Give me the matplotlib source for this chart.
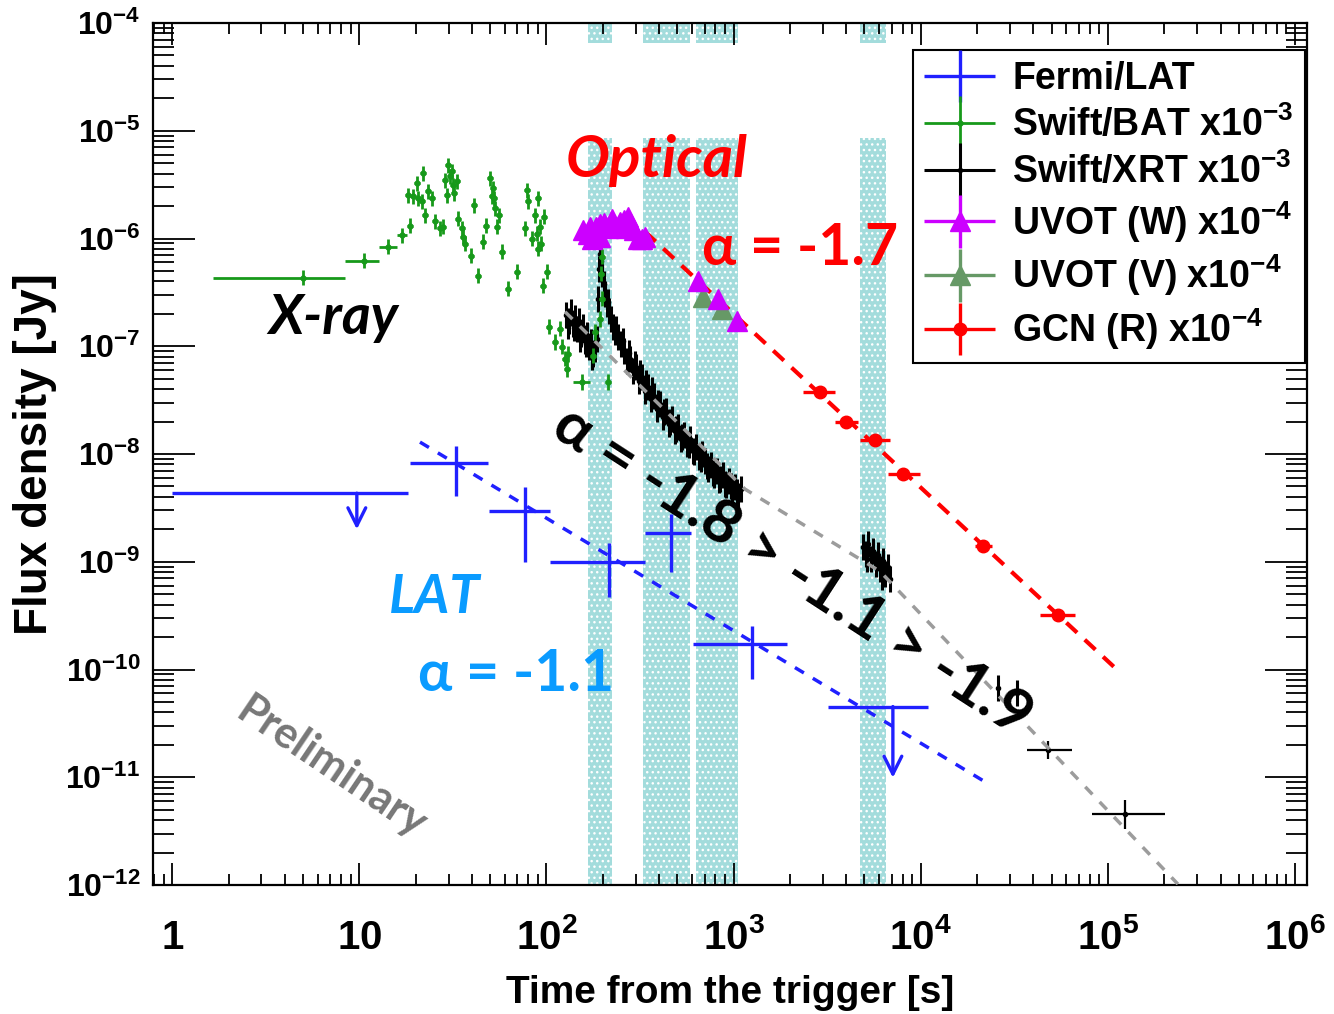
import numpy as np
import matplotlib.pyplot as plt
from matplotlib.container import ErrorbarContainer
from matplotlib.legend_handler import HandlerErrorbar
from matplotlib.patches import Rectangle

plt.rcParams['font.family'] = ['Liberation Sans', 'DejaVu Sans']
plt.rcParams['mathtext.fontset'] = 'custom'
plt.rcParams['mathtext.rm'] = 'Liberation Sans:bold'
plt.rcParams['mathtext.bf'] = 'Liberation Sans:bold'
plt.rcParams['mathtext.default'] = 'bf'

# ---------------- data (time [s], flux density [Jy]) ----------------
# Fermi/LAT detections
lat_t = [32.9, 76.9, 216, 463, 1254]
lat_tlo = [18.7, 49.4, 104.5, 336, 607]
lat_thi = [48.8, 104.5, 336, 592, 1928]
lat_f = [8.24e-9, 2.95e-9, 9.9e-10, 1.84e-9, 1.71e-10]
lat_flo = [4.07e-9, 9.9e-10, 4.68e-10, 7.98e-10, 8.24e-11]
lat_fhi = [1.19e-8, 4.93e-9, 1.49e-9, 2.77e-9, 2.51e-10]
# Fermi/LAT upper limits
lat_ul_t = [9.7, 7100]
lat_ul_tlo = [1.0, 3190]
lat_ul_thi = [18.2, 10900]
lat_ul_f = [4.33e-9, 4.53e-11]
lat_ul_end = [2.0e-9, 9.9e-12]
# LAT power-law fit (alpha = -1.1)
lat_fit_t = [21.1, 22000]
lat_fit_f = [1.29e-8, 9.1e-12]

# Swift/BAT, wide early bins
bat_wide_t = [5.01, 10.6, 14.3, 16.9]
bat_wide_tlo = [1.66, 8.40, 12.8, 15.9]
bat_wide_thi = [8.40, 12.8, 15.9, 18.0]
bat_wide_f = [4.34e-7, 6.24e-7, 8.43e-7, 1.07e-6]
# Swift/BAT, fine bins
bat_t = [18.7, 18.2, 19.4, 20.3, 20.6, 21.9, 21.6, 22.5, 23.3, 24.5,
         25.4, 27.0, 28.0, 28.7, 29.8, 31.3, 31.7, 29.4, 33.3, 33.7,
         35.4, 35.8, 36.7, 39.5, 41.0, 43.1, 45.8, 47.6, 50.0, 51.9,
         52.5, 54.5, 55.8, 57.9, 62.4, 69.7, 76.9, 78.8, 79.8, 83.8,
         86.9, 90.2, 92.4, 90.2, 95.9, 101, 30.6, 32.1, 51.2, 53.1,
         89.1, 93.6, 97.1,
         103, 111, 118, 121, 126, 130, 129, 213,
         177, 182, 193, 198, 196, 198]
bat_f = [1.32e-6, 2.51e-6, 2.46e-6, 3.25e-6, 2.36e-6, 4.02e-6, 2.21e-6, 1.64e-6, 2.74e-6, 2.36e-6,
         1.44e-6, 1.24e-6, 1.29e-6, 3.46e-6, 4.77e-6, 4.20e-6, 3.11e-6, 2.51e-6, 3.39e-6, 1.53e-6,
         1.24e-6, 1.04e-6, 8.98e-7, 6.95e-7, 2.03e-6, 4.53e-7, 9.38e-7, 1.32e-6, 3.61e-6, 2.92e-6,
         2.36e-6, 1.29e-6, 1.64e-6, 7.57e-7, 3.43e-7, 4.93e-7, 1.24e-6, 2.80e-6, 2.21e-6, 1.00e-6,
         1.64e-6, 2.36e-6, 1.29e-6, 8.07e-7, 3.66e-7, 4.93e-7, 3.77e-6, 2.62e-6, 2.46e-6, 1.90e-6,
         1.11e-6, 8.98e-7, 1.60e-6,
         1.52e-7, 1.10e-7, 1.46e-7, 9.9e-8, 7.66e-8, 8.51e-8, 6.18e-8, 4.68e-8,
         8.17e-8, 1.36e-7, 1.80e-7, 2.77e-7, 4.72e-7, 6.80e-7]
bat_late_t = [155]
bat_late_tlo = [139]
bat_late_thi = [171]
bat_late_f = [4.68e-8]

# Swift/XRT
xrt_t = [127.3, 132.1, 135.4, 138.7, 142.1, 145.7, 149.4, 153.1, 156.9, 160.8,
         164.8, 168.9, 173.1, 177.5, 181.9, 186.4,
         188.7, 191.0, 193.4, 195.8, 198.2, 203.2, 205.7, 210.8, 216.0, 221.4,
         227.0, 232.6, 241.3, 250.4, 259.8,
         269.6, 279.9, 290.4, 301.3, 312.6, 324.4, 336.6, 349.1, 362.2, 375.8,
         390.0, 404.7, 419.9, 435.7, 452.0, 469.0, 486.7, 505.0, 524.0, 543.7,
         564.2, 585.4, 607.4, 630.2, 654.0, 678.6, 704.1, 730.6, 758.1, 786.6,
         816.2, 846.9, 878.8, 911.9, 946.2, 981.5, 1018.6, 1056.8, 1096.5,
         4913, 5098, 5225, 5421, 5556, 5766, 5909, 6056, 6282, 6442,
         6682, 6850, 5161, 6207, 25850, 32660,
         130.5, 140.0, 151.0, 162.5, 175.0, 212.0, 236.0, 255.0, 275.0, 296.0,
         318.0, 342.0, 368.0, 397.0, 427.0, 460.0, 495.0, 533.0, 575.0, 618.0,
         666.0, 717.0, 772.0, 832.0, 895.0, 964.0, 1038.0]
xrt_f = [1.96e-7, 1.73e-7, 2.09e-7, 1.62e-7, 1.84e-7, 1.455e-7, 1.73e-7, 1.31e-7, 1.52e-7, 1.125e-7,
         1.28e-7, 9.89e-8, 1.10e-7, 8.51e-8, 9.48e-8, 1.17e-7,
         2.77e-7, 5.26e-7, 7.25e-7, 6.24e-7, 4.72e-7, 3.81e-7, 3.08e-7, 2.48e-7, 2.14e-7, 1.80e-7,
         1.52e-7, 1.36e-7, 1.23e-7, 1.055e-7, 9.08e-8,
         7.33e-8, 7.65e-8, 5.92e-8, 6.44e-8, 4.78e-8, 5.20e-8, 3.85e-8, 4.20e-8, 3.25e-8, 3.46e-8,
         2.62e-8, 2.92e-8, 2.21e-8, 2.51e-8, 1.90e-8, 2.12e-8, 1.64e-8, 1.78e-8, 1.38e-8, 1.50e-8,
         1.24e-8, 1.38e-8, 1.07e-8, 1.16e-8, 9.37e-9, 1.00e-8, 8.60e-9, 7.25e-9, 7.90e-9, 6.37e-9,
         6.94e-9, 5.85e-9, 6.37e-9, 5.14e-9, 5.61e-9, 4.52e-9, 4.93e-9, 4.06e-9, 4.72e-9,
         1.365e-9, 1.175e-9, 1.455e-9, 1.055e-9, 1.253e-9, 9.48e-10, 1.150e-9, 8.52e-10, 1.011e-9, 7.65e-10,
         8.89e-10, 6.87e-10, 1.055e-9, 7.18e-10, 6.80e-11, 6.11e-11,
         1.55e-7, 1.48e-7, 1.16e-7, 1.05e-7, 8.0e-8, 2.60e-7, 1.45e-7, 1.12e-7, 8.7e-8, 6.9e-8,
         5.6e-8, 4.6e-8, 3.9e-8, 3.0e-8, 2.45e-8, 2.0e-8, 1.72e-8, 1.45e-8, 1.22e-8, 1.05e-8,
         9.0e-9, 7.7e-9, 6.6e-9, 5.7e-9, 5.3e-9, 5.0e-9, 4.4e-9]
xrt_late_t = [47820, 123300]
xrt_late_tlo = [36940, 82130]
xrt_late_thi = [64240, 201600]
xrt_late_f = [1.80e-11, 4.58e-12]
xrt_late_flo = [1.48e-11, 3.30e-12]
xrt_late_fhi = [2.18e-11, 6.20e-12]
# XRT broken power-law fit (-1.8 -> -1.1 -> -1.9)
xrt_fit_t = [125.7, 1151, 6056, 236700]
xrt_fit_f = [2.09e-7, 4.72e-9, 8.16e-10, 1.02e-12]

# UVOT white filter
uvw_t = [157, 167, 175, 184, 193, 203, 213, 224, 235, 247,
         260, 273, 283, 294, 309, 325, 336, 171, 266, 193,
         646, 826, 1042]
uvw_f = [1.19e-6, 1.09e-6, 9.8e-7, 1.29e-6, 1.04e-6, 1.38e-6, 1.24e-6, 1.53e-6, 1.29e-6, 1.41e-6,
         1.47e-6, 1.60e-6, 1.35e-6, 1.19e-6, 1.00e-6, 1.00e-6, 1.04e-6, 1.29e-6, 1.24e-6, 1.35e-6,
         4.07e-7, 2.77e-7, 1.73e-7]
# UVOT V filter
uvv_t = [687, 867]
uvv_f = [2.89e-7, 2.23e-7]

# GCN R band
gcn_t = [2896, 3985, 5690, 8035, 21500, 54100]
gcn_tlo = [2350, 3480, 4732, 6680, 19500, 43300]
gcn_thi = [3480, 4620, 6846, 9900, 24000, 66600]
gcn_f = [3.77e-8, 1.99e-8, 1.35e-8, 6.52e-9, 1.39e-9, 3.18e-10]
# optical power-law fit (alpha = -1.7)
gcn_fit_t = [336, 109000]
gcn_fit_f = [1.16e-6, 1.04e-10]

# shaded time windows
band_t0 = [166.9, 328.2, 630.2, 4736]
band_t1 = [224.1, 585.4, 1056.8, 6521]
band_top = 8.52e-6
strip_bottom = 6.52e-5

bat_dt, bat_df = 0.04, 0.18
xrt_dt, xrt_df = 0.025, 0.32
uv_dt, uv_df = 0.02, 0.06

xmaj = [1, 10, 1e2, 1e3, 1e4, 1e5, 1e6]
xlabels = ['$1$', '$10$', '$10^{2}$', '$10^{3}$', '$10^{4}$', '$10^{5}$', '$10^{6}$']
ymaj = [1e-12, 1e-11, 1e-10, 1e-9, 1e-8, 1e-7, 1e-6, 1e-5, 1e-4]
ylabels = ['$10^{%d}$' % e for e in range(-12, -3)]


def rel_err(v, frac):
    v = np.asarray(v, float)
    return [v - v / (1 + frac), v * frac]


def rng_err(v, lo, hi):
    v = np.asarray(v, float)
    return [v - np.asarray(lo), np.asarray(hi) - v]


C_LAT = '#2020ff'
C_BAT = '#17991a'
C_UVW = '#cc00ff'
C_UVV = '#669966'
C_GCN = '#ff0000'
C_TXT = '#0a9bff'

fig = plt.figure(figsize=(13.34, 10.14), dpi=100)
ax = fig.add_axes([0.1147, 0.1272, 0.8651, 0.8501])
ax.set_xscale('log')
ax.set_yscale('log')

for a, b in zip(band_t0, band_t1):
    for lo, hi in [(1e-13, band_top), (strip_bottom, 1e-3)]:
        ax.add_patch(Rectangle((a, lo), b - a, hi - lo, facecolor='#a3dcdc',
                               edgecolor='white', hatch='...', lw=0, zorder=0.5))

ax.plot(xrt_fit_t, xrt_fit_f, color='#9c9c9c', lw=2.5, ls=(0, (3, 3)), zorder=3)

xrt = ax.errorbar(xrt_t, xrt_f, xerr=rel_err(xrt_t, xrt_dt), yerr=rel_err(xrt_f, xrt_df),
                  fmt='o', ms=3, color='black', elinewidth=2.2, capsize=0, zorder=2)
ax.errorbar(xrt_late_t, xrt_late_f, xerr=rng_err(xrt_late_t, xrt_late_tlo, xrt_late_thi),
            yerr=rng_err(xrt_late_f, xrt_late_flo, xrt_late_fhi),
            fmt='o', ms=3, color='black', elinewidth=1.6, capsize=0, zorder=2)

bat = ax.errorbar(bat_t, bat_f, xerr=rel_err(bat_t, bat_dt), yerr=rel_err(bat_f, bat_df),
                  fmt='o', ms=3.5, color=C_BAT, elinewidth=2, capsize=0, zorder=4)
ax.errorbar(bat_wide_t, bat_wide_f, xerr=rng_err(bat_wide_t, bat_wide_tlo, bat_wide_thi),
            yerr=rel_err(bat_wide_f, bat_df), fmt='o', ms=3.5, color=C_BAT,
            elinewidth=2, capsize=0, zorder=4)
ax.errorbar(bat_late_t, bat_late_f, xerr=rng_err(bat_late_t, bat_late_tlo, bat_late_thi),
            yerr=rel_err(bat_late_f, bat_df), fmt='o', ms=3.5, color=C_BAT,
            elinewidth=2, capsize=0, zorder=4)

ax.plot(lat_fit_t, lat_fit_f, color=C_LAT, lw=2.5, ls=(0, (3, 3)), zorder=5)
lat = ax.errorbar(lat_t, lat_f, xerr=rng_err(lat_t, lat_tlo, lat_thi),
                  yerr=rng_err(lat_f, lat_flo, lat_fhi), fmt='none',
                  ecolor=C_LAT, elinewidth=2.4, capsize=0, zorder=5)
ax.errorbar(lat_ul_t, lat_ul_f, xerr=rng_err(lat_ul_t, lat_ul_tlo, lat_ul_thi),
            fmt='none', ecolor=C_LAT, elinewidth=2.4, capsize=0, zorder=5)
for t, f0, f1 in zip(lat_ul_t, lat_ul_f, lat_ul_end):
    ax.annotate('', xy=(t, f1), xytext=(t, f0),
                arrowprops=dict(arrowstyle='->', color=C_LAT, lw=2.4,
                                mutation_scale=32, shrinkA=0, shrinkB=0), zorder=5)

ax.plot(gcn_fit_t, gcn_fit_f, color=C_GCN, lw=3, ls=(0, (3.5, 2.5)), zorder=6)
gcn = ax.errorbar(gcn_t, gcn_f, xerr=rng_err(gcn_t, gcn_tlo, gcn_thi),
                  yerr=rel_err(gcn_f, 0.04), fmt='o', ms=9, color=C_GCN,
                  elinewidth=2.4, capsize=0, zorder=7)

uvv = ax.errorbar(uvv_t, uvv_f, xerr=rel_err(uvv_t, uv_dt), yerr=rel_err(uvv_f, uv_df),
                  fmt='^', ms=15, color=C_UVV, elinewidth=2.4, capsize=0, zorder=7)
uvw = ax.errorbar(uvw_t, uvw_f, xerr=rel_err(uvw_t, uv_dt), yerr=rel_err(uvw_f, uv_df),
                  fmt='^', ms=15, color=C_UVW, elinewidth=2.4, capsize=0, zorder=8)

# axes styling
ax.set_xticks(xmaj, xlabels)
ax.set_yticks(ymaj, ylabels)
ax.set_xticks([m * 10.0 ** e for e in range(-1, 7) for m in range(2, 10)], minor=True)
ax.set_yticks([m * 10.0 ** e for e in range(-13, -3) for m in range(2, 10)], minor=True)
ax.set_xticklabels([], minor=True)
ax.set_yticklabels([], minor=True)
ax.set_xlim(0.79, 1.16e6)
ax.set_ylim(1e-12, 1e-4)
ax.tick_params(which='both', direction='in', top=True, right=True, width=1.3, color='black')
ax.tick_params(axis='x', which='major', length=16, labelsize=29, pad=46)
ax.tick_params(axis='x', which='minor', length=8)
ax.tick_params(axis='y', which='major', length=30, labelsize=23, pad=9)
ax.tick_params(axis='y', which='minor', length=15)
for lab in ax.get_xticklabels():
    lab.set_va('baseline')
for s in ax.spines.values():
    s.set_linewidth(1.6)

ax.set_xlabel('Time from the trigger [s]', fontsize=28, fontweight='bold')
ax.set_ylabel('Flux density [Jy]', fontsize=33, fontweight='bold')
ax.xaxis.set_label_coords(0.5, -0.104)
ax.yaxis.set_label_coords(-0.083, 0.5)

handles = [lat, bat, xrt, uvw, uvv, gcn]
labels = ['Fermi/LAT', 'Swift/BAT x10$^{-3}$', 'Swift/XRT x10$^{-3}$',
          'UVOT (W) x10$^{-4}$', 'UVOT (V) x10$^{-4}$', 'GCN (R) x10$^{-4}$']
leg = ax.legend(handles, labels, loc='upper right', bbox_to_anchor=(0.998, 0.969),
                prop={'family': 'Liberation Sans', 'weight': 'bold', 'size': 27},
                frameon=True, fancybox=False, edgecolor='black', framealpha=1,
                borderaxespad=0, handlelength=1.9, handletextpad=0.45,
                labelspacing=0.22, borderpad=0.3,
                handler_map={ErrorbarContainer: HandlerErrorbar(xerr_size=0.95, yerr_size=0.7)})
leg.get_frame().set_linewidth(1.5)
leg.set_zorder(10)

ann = ['Lato', 'DejaVu Sans']
ax.text(0.436, 0.840, 'Optical', transform=ax.transAxes, color=C_GCN, fontsize=42,
        fontweight='bold', style='italic', family=ann, ha='center', va='center', zorder=9)
ax.text(0.561, 0.738, 'α = -1.7', transform=ax.transAxes, color=C_GCN, fontsize=41,
        fontweight='bold', family=ann, ha='center', va='center', zorder=9)
ax.text(0.156, 0.658, 'X-ray', transform=ax.transAxes, color='black', fontsize=40,
        fontweight='bold', style='italic', family=ann, ha='center', va='center', zorder=9)
ax.text(0.244, 0.334, 'LAT', transform=ax.transAxes, color=C_TXT, fontsize=39,
        fontweight='bold', style='italic', family=ann, ha='center', va='center', zorder=9)
ax.text(0.315, 0.244, 'α = -1.1', transform=ax.transAxes, color=C_TXT, fontsize=41,
        fontweight='bold', family=ann, ha='center', va='center', zorder=9)
ax.text(0.554, 0.365, 'α = -1.8 > -1.1 > -1.9', transform=ax.transAxes, color='black',
        fontsize=44, fontweight='bold', family=ann, ha='center', va='center',
        rotation=-33, rotation_mode='anchor', zorder=9)
ax.text(0.155, 0.136, 'Preliminary', transform=ax.transAxes, color='#777777', fontsize=31,
        fontweight='bold', family=ann, ha='center', va='center',
        rotation=-34, rotation_mode='anchor', zorder=9)

fig.savefig('out.png', dpi=100)
